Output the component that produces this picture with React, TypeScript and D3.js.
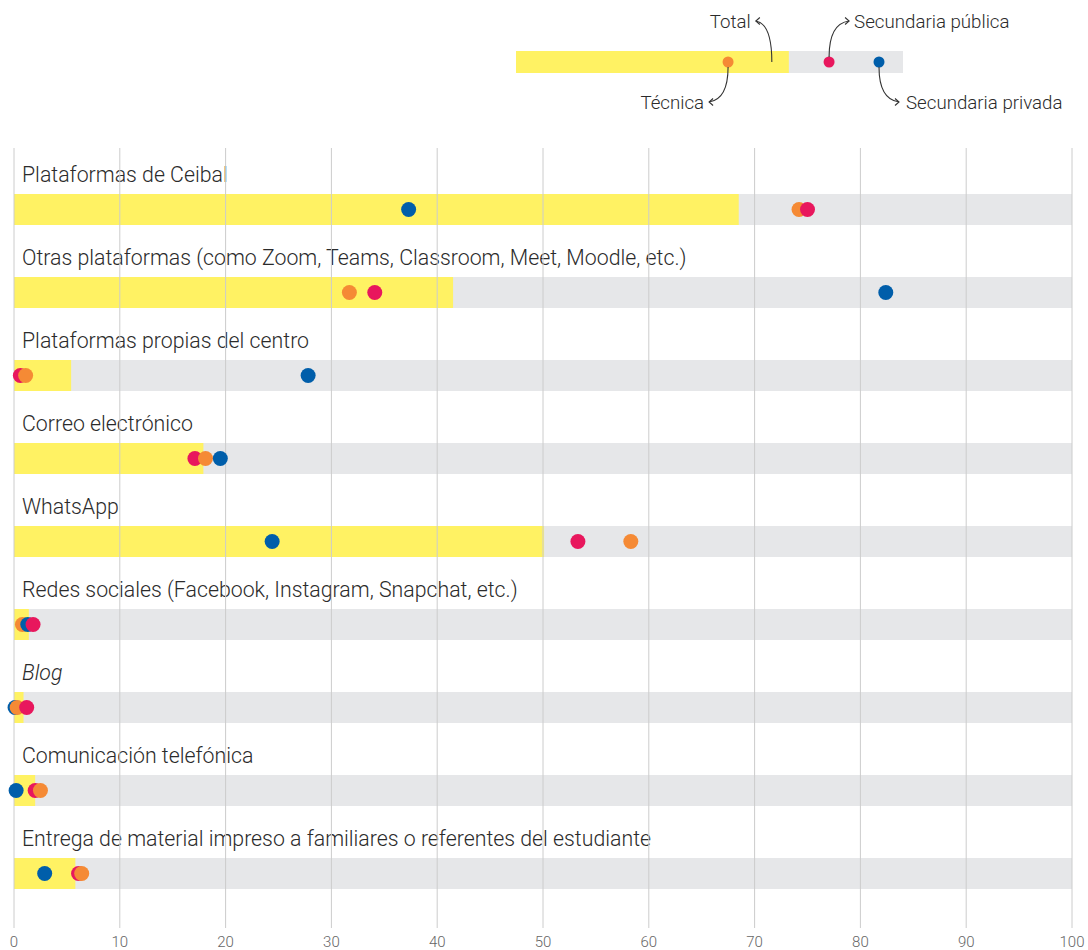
import React, { useEffect } from "react";
import * as d3 from "d3";

const categories = [
  "Plataformas de Ceibal",
  "Otras plataformas (como Zoom, Teams, Classroom, Meet, Moodle, etc.)",
  "Plataformas propias del centro",
  "Correo electrónico",
  "WhatsApp",
  "Redes sociales (Facebook, Instagram, Snapchat, etc.)",
  "Blog",
  "Comunicación telefónica",
  "Entrega de material impreso a familiares o referentes del estudiante",
];
const total = [68.5, 41.5, 5.4, 17.9, 50.1, 1.4, 0.9, 2.0, 5.8];
const tecnica = [74.2, 31.7, 1.1, 18.1, 58.3, 0.8, 0.3, 2.5, 6.4];
const publica = [75.0, 34.1, 0.6, 17.1, 53.3, 1.8, 1.2, 2.0, 6.1];
const privada = [37.3, 82.4, 27.8, 19.5, 24.4, 1.3, 0.1, 0.2, 2.9];
const ticks = [0, 10, 20, 30, 40, 50, 60, 70, 80, 90, 100];

const legendTotal = 70.5;
const legendTecnica = 54.8;
const legendPublica = 80.9;
const legendPrivada = 93.8;

const COLORS = {
  yellow: "#fff263",
  gray: "#e6e7e9",
  tecnica: "#f58a35",
  publica: "#e8175d",
  privada: "#005eaa",
  grid: "#cccccc",
  text: "#2b2b2b",
};

export default function App() {
  useEffect(() => {
    document.body.style.margin = "0";
  }, []);
  const W = 1088;
  const H = 950;
  const x = d3.scaleLinear().domain([0, 100]).range([14, 1072]);
  const y = d3.scaleBand<string>().domain(categories).range([167, 914]).padding(0);
  const lx = d3.scaleLinear().domain([0, 100]).range([516, 903]);
  const font = "Roboto, 'Noto Sans', sans-serif";

  const rows = categories.map((c, i) => {
    const dots = [
      { k: "tecnica", v: tecnica[i], color: COLORS.tecnica },
      { k: "publica", v: publica[i], color: COLORS.publica },
      { k: "privada", v: privada[i], color: COLORS.privada },
    ].sort((a, b) => a.v - b.v);
    return { c, i, dots };
  });

  const arrowHead = (xx: number, yy: number, dir: number) =>
    `M${xx + dir * 4},${yy - 3.5} L${xx},${yy} L${xx + dir * 4},${yy + 3.5}`;

  const ly = 62;
  return (
    <svg width={W} height={H} style={{ display: "block", fontFamily: font }}>
      {/* legend */}
      <g>
        <rect x={lx(0)} y={51} width={lx(100) - lx(0)} height={22} fill={COLORS.gray} />
        <rect x={lx(0)} y={51} width={lx(legendTotal) - lx(0)} height={22} fill={COLORS.yellow} />
        <circle cx={lx(legendTecnica)} cy={ly} r={5.5} fill={COLORS.tecnica} />
        <circle cx={lx(legendPublica)} cy={ly} r={5.5} fill={COLORS.publica} />
        <circle cx={lx(legendPrivada)} cy={ly} r={5.5} fill={COLORS.privada} />
        <g fill="none" stroke="#333" strokeWidth={1.1}>
          <path d={`M${lx(legendTotal) - 17},${ly} C${lx(legendTotal) - 17},38 ${lx(legendTotal) - 22},23 ${lx(legendTotal) - 33},21`} />
          <path d={arrowHead(lx(legendTotal) - 33, 21, 1)} />
          <path d={`M${lx(legendPublica)},${ly - 5} C${lx(legendPublica)},38 ${lx(legendPublica) + 5},23 ${lx(legendPublica) + 20},21`} />
          <path d={arrowHead(lx(legendPublica) + 20, 21, -1)} />
          <path d={`M${lx(legendTecnica)},${ly + 5} C${lx(legendTecnica)},86 ${lx(legendTecnica) - 5},100 ${lx(legendTecnica) - 19},102`} />
          <path d={arrowHead(lx(legendTecnica) - 19, 102, 1)} />
          <path d={`M${lx(legendPrivada)},${ly + 5} C${lx(legendPrivada)},86 ${lx(legendPrivada) + 5},100 ${lx(legendPrivada) + 20},102`} />
          <path d={arrowHead(lx(legendPrivada) + 20, 102, -1)} />
        </g>
        <g fontSize={18.7} fontWeight={300} fill={COLORS.text}>
          <text x={lx(legendTotal) - 38} y={28} textAnchor="end">Total</text>
          <text x={lx(legendPublica) + 25} y={28}>Secundaria pública</text>
          <text x={lx(legendTecnica) - 24} y={109} textAnchor="end">Técnica</text>
          <text x={lx(legendPrivada) + 27} y={109}>Secundaria privada</text>
        </g>
      </g>

      {/* bars */}
      {rows.map(({ c, i }) => (
        <g key={c}>
          <rect x={x(0)} y={(y(c) as number) + 27} width={x(100) - x(0)} height={31} fill={COLORS.gray} />
          <rect x={x(0)} y={(y(c) as number) + 27} width={x(total[i]) - x(0)} height={31} fill={COLORS.yellow} />
        </g>
      ))}

      {/* labels */}
      {rows.map(({ c }) => (
        <text
          key={c + "-l"}
          x={22}
          y={(y(c) as number) + 15}
          fontSize={21.3}
          fontWeight={300}
          fill={COLORS.text}
          fontStyle={c === "Blog" ? "italic" : "normal"}
        >
          {c}
        </text>
      ))}

      {/* grid */}
      {ticks.map((t) => (
        <g key={t}>
          <line x1={x(t)} x2={x(t)} y1={148} y2={928} stroke={COLORS.grid} strokeWidth={1} />
          <text x={x(t)} y={947} textAnchor="middle" fontSize={15} fontWeight={300} fill="#666">
            {t}
          </text>
        </g>
      ))}

      {/* dots */}
      {rows.map(({ c, dots }) => (
        <g key={c + "-d"}>
          {dots.map((d) => (
            <circle key={d.k} cx={x(d.v)} cy={(y(c) as number) + 42.5} r={7.5} fill={d.color} />
          ))}
        </g>
      ))}
    </svg>
  );
}
